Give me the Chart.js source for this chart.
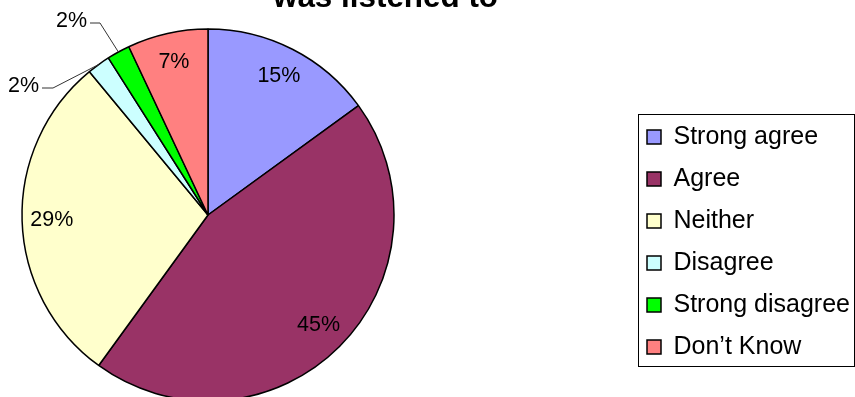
<!DOCTYPE html>
<html>
<head>
<meta charset="utf-8">
<script src="https://cdn.jsdelivr.net/npm/chart.js@4.4.1/dist/chart.umd.min.js"></script>
<style>
    html, body { margin: 0; padding: 0; background: #fff; }
    #wrap { width: 855px; height: 397px; position: relative; }
</style>
</head>
<body>
<div id="wrap"><canvas id="pieChart"></canvas></div>
<script>
const categories = ['Strong agree', 'Agree', 'Neither', 'Disagree', 'Strong disagree', 'Don\u2019t Know'];
const percentages = [15, 45, 29, 2, 2, 7];
const sliceColors = ['#9999FF', '#993366', '#FFFFCC', '#CCFFFF', '#00FF00', '#FF8080'];
const titleText = 'was listened to';

const FONT = '"Liberation Sans", Arial, sans-serif';
const PIE_CENTER_X = 208;

// the two thin slices get their label outside, with a leader line
const outsideLabels = {
    3: { elbowX: 53, elbowY: 88, tail: 11 },
    4: { elbowX: 100, elbowY: 23, tail: 10 },
};

// pie sits well left of the middle of the free space, so widen the area to the left
const shiftPie = {
    id: 'shiftPie',
    afterLayout(chart) {
        const a = chart.chartArea;
        a.left = 2 * PIE_CENTER_X - a.right;
        a.width = a.right - a.left;
    }
};

const sliceLabels = {
    id: 'sliceLabels',
    afterDatasetsDraw(chart) {
        const ctx = chart.ctx;
        const meta = chart.getDatasetMeta(0);
        ctx.save();
        ctx.font = '21.5px ' + FONT;
        ctx.fillStyle = '#000';
        ctx.textBaseline = 'middle';
        meta.data.forEach((arc, i) => {
            const { x, y, startAngle, endAngle, outerRadius } =
                arc.getProps(['x', 'y', 'startAngle', 'endAngle', 'outerRadius'], true);
            const mid = (startAngle + endAngle) / 2;
            const text = percentages[i] + '%';
            const lead = outsideLabels[i];
            if (lead) {
                const sx = x + Math.cos(mid) * outerRadius;
                const sy = y + Math.sin(mid) * outerRadius;
                ctx.strokeStyle = '#333';
                ctx.lineWidth = 1;
                ctx.beginPath();
                ctx.moveTo(sx, sy);
                ctx.lineTo(lead.elbowX, lead.elbowY);
                ctx.lineTo(lead.elbowX - lead.tail, lead.elbowY);
                ctx.stroke();
                ctx.textAlign = 'right';
                ctx.fillText(text, lead.elbowX - lead.tail - 3, lead.elbowY - 1.5);
            } else {
                const r = outerRadius * 0.84;
                ctx.textAlign = 'center';
                ctx.fillText(text, x + Math.cos(mid) * r, y + Math.sin(mid) * r);
            }
        });
        ctx.restore();
    }
};

// title (its top is cut off in the original) and the frame round the legend
const frameAndTitle = {
    id: 'frameAndTitle',
    afterDraw(chart) {
        const ctx = chart.ctx;
        const lg = chart.legend;
        const hb = lg.legendHitBoxes;
        const top = Math.round(hb[0].top) - 10.5;
        const bottom = Math.round(hb[hb.length - 1].top + hb[hb.length - 1].height) + 6.5;
        const left = Math.round(lg.left) + 8.5;
        ctx.save();
        ctx.strokeStyle = '#000';
        ctx.lineWidth = 1;
        ctx.strokeRect(left, top, chart.width - 0.5 - left, bottom - top);

        ctx.font = 'bold 31.4px ' + FONT;
        ctx.fillStyle = '#000';
        ctx.textAlign = 'center';
        ctx.textBaseline = 'alphabetic';
        ctx.fillText(titleText, 385.5, 6.5);
        ctx.restore();
    }
};

new Chart(document.getElementById('pieChart'), {
    type: 'pie',
    data: {
        labels: categories,
        datasets: [{
            data: percentages,
            backgroundColor: sliceColors,
            borderColor: '#000',
            borderWidth: 1.5,
            radius: 186,
        }],
    },
    options: {
        responsive: true,
        maintainAspectRatio: false,
        animation: false,
        layout: {
            padding: { left: 0, right: 1, top: 53.5, bottom: 20.5 },
        },
        plugins: {
            legend: {
                position: 'right',
                align: 'end',
                maxWidth: 224,
                labels: {
                    boxWidth: 14,
                    boxHeight: 14,
                    padding: 17,
                    color: '#000',
                    font: { family: FONT, size: 25 },
                },
            },
            tooltip: { enabled: false },
            title: { display: false },
        },
    },
    plugins: [shiftPie, sliceLabels, frameAndTitle],
});
</script>
</body>
</html>
